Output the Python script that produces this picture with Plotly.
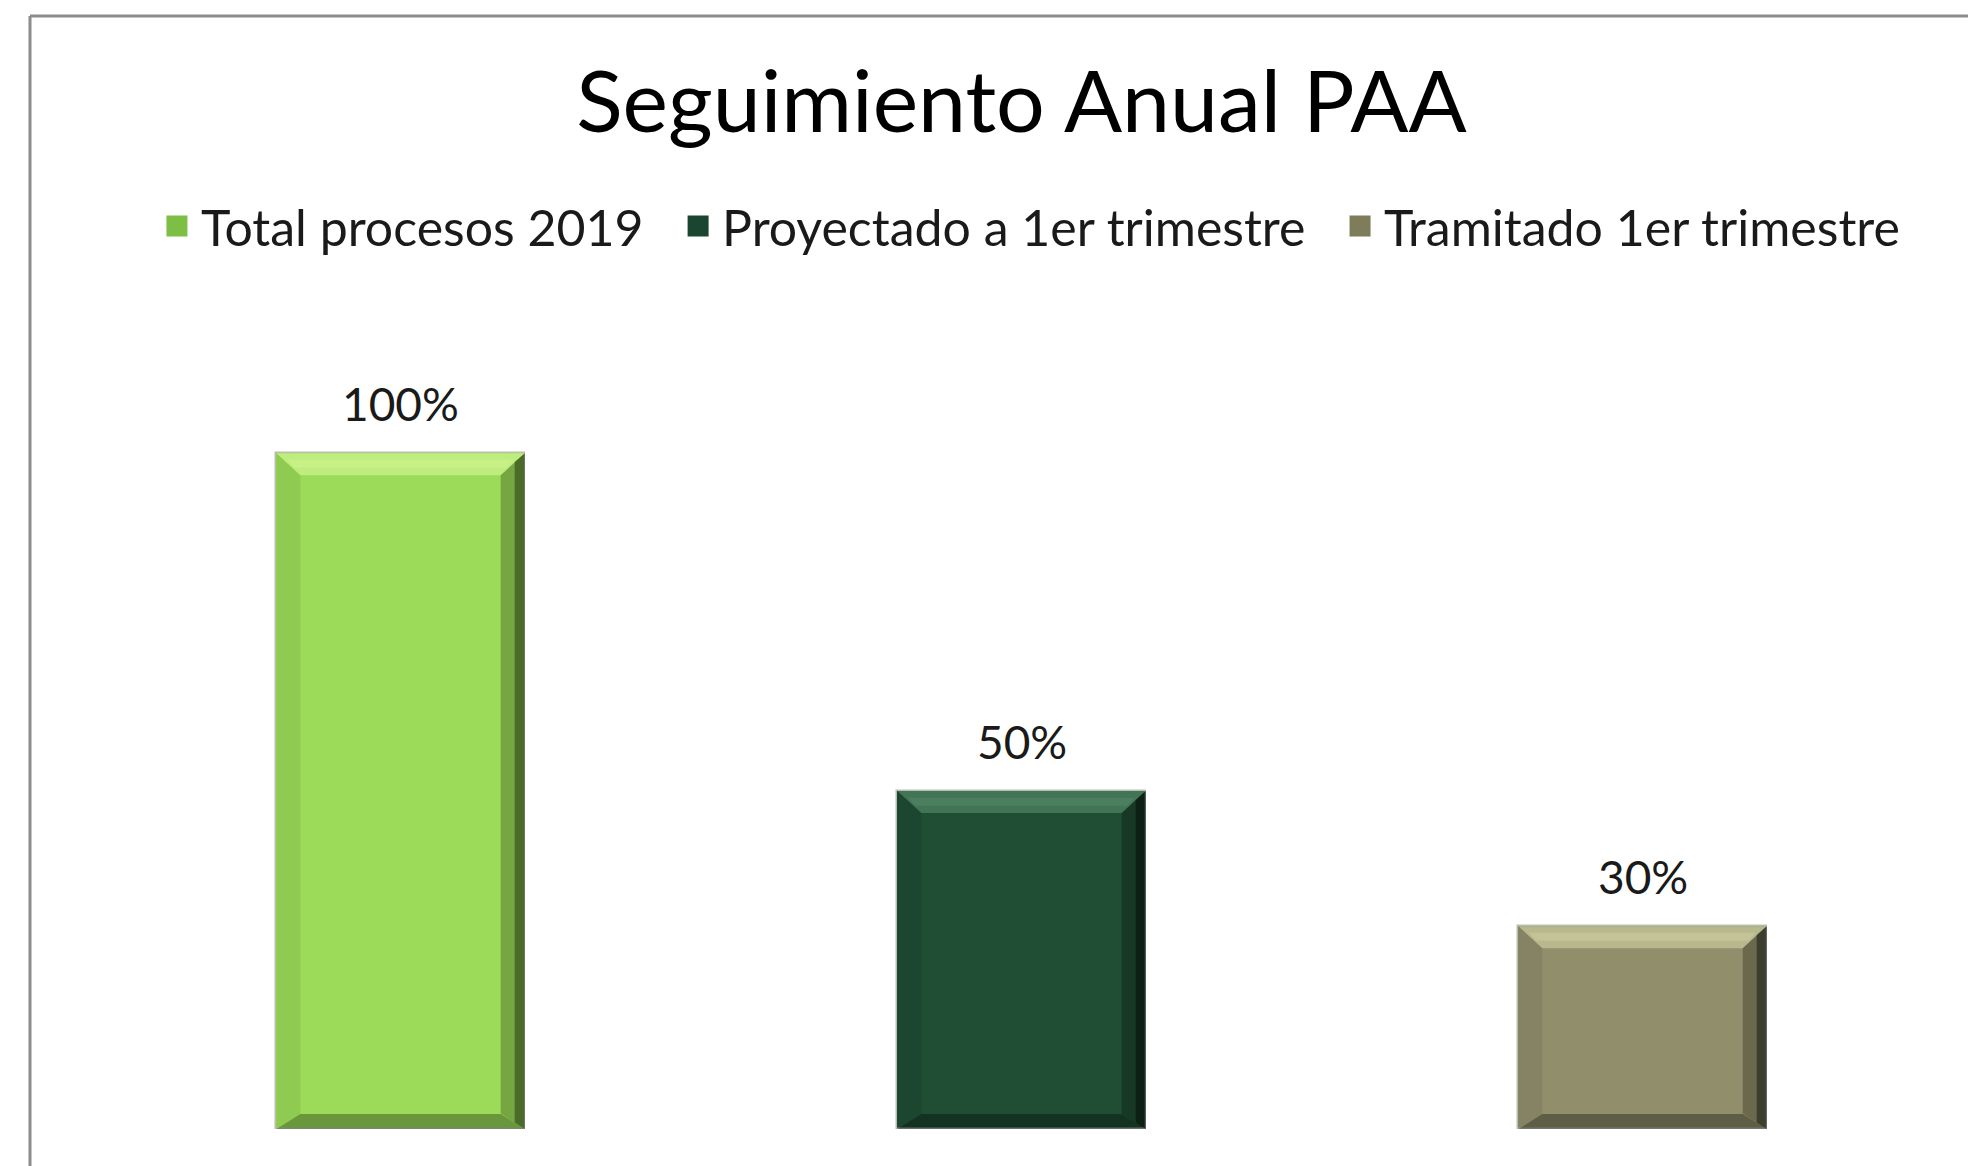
import plotly.graph_objects as go

categories = ["Total procesos 2019", "Proyectado a 1er trimestre", "Tramitado 1er trimestre"]
values = [1.00, 0.50, 0.30]
colors = ["#9CDA5A", "#1F4E35", "#918F6B"]
light = ["#C9F28A", "#4F8262", "#C6C69A"]
dark = ["#2E4418", "#061209", "#22221A"]
mid_dark = ["#7FB845", "#183E2A", "#77755A"]
legend_fill = ["#7DBE45", "#1A4530", "#7E7C5A"]

W, H = 1968, 1166
ML, MR, MT, MB = 90, 15, 318, 37
YMAX = 1.2
bar_w = 0.40

fig = go.Figure()
for i, (c, v) in enumerate(zip(categories, values)):
    fig.add_trace(go.Bar(
        x=[i], y=[v], name=c, width=bar_w,
        marker=dict(color=colors[i], line=dict(color="#B8BDB4", width=1.5)),
        showlegend=False,
    ))
# legend entries (larger square symbols); trailing spaces widen the gap between entries
for i, c in enumerate(categories):
    pad = "\u00a0\u00a0" if i < len(categories) - 1 else ""
    fig.add_trace(go.Scatter(
        x=[None], y=[None], mode="markers", name=c + pad,
        marker=dict(symbol="square", size=16, color=legend_fill[i],
                    line=dict(color=legend_fill[i], width=5)),
        showlegend=True,
    ))

plot_w = W - ML - MR
plot_h = H - MT - MB
px_per_cat = plot_w / 3
px_per_unit = plot_h / YMAX


def path(pts):
    return "M " + " L ".join(f"{a},{b}" for a, b in pts) + " Z"


shapes = []
for i, v in enumerate(values):
    x0, x1 = i - bar_w / 2, i + bar_w / 2
    y0, y1 = 0, v
    bx = 24 / px_per_cat
    by = 22 / px_per_unit
    # top bevel
    shapes.append(dict(type="path", xref="x", yref="y", layer="above",
                       path=path([(x0, y1), (x1, y1), (x1 - bx, y1 - by), (x0 + bx, y1 - by)]),
                       fillcolor=light[i], line=dict(width=0), opacity=0.75))
    # top highlight band (middle of top bevel)
    hb = 8 / px_per_unit
    shapes.append(dict(type="path", xref="x", yref="y", layer="above",
                       path=path([(x0 + bx * 0.45, y1 - by * 0.3), (x1 - bx * 0.45, y1 - by * 0.3),
                                  (x1 - bx * 0.75, y1 - by * 0.3 - hb), (x0 + bx * 0.75, y1 - by * 0.3 - hb)]),
                       fillcolor=light[i], line=dict(width=0), opacity=0.8))
    # right bevel (wide, soft)
    shapes.append(dict(type="path", xref="x", yref="y", layer="above",
                       path=path([(x1, y1), (x1, y0), (x1 - bx, y0 + by * 0.7), (x1 - bx, y1 - by)]),
                       fillcolor=dark[i], line=dict(width=0), opacity=0.35))
    # right bevel (narrow, dark edge)
    bx2 = 10 / px_per_cat
    shapes.append(dict(type="path", xref="x", yref="y", layer="above",
                       path=path([(x1, y1), (x1, y0), (x1 - bx2, y0 + by * 0.3), (x1 - bx2, y1 - by * 0.4)]),
                       fillcolor=dark[i], line=dict(width=0), opacity=0.6))
    # bottom bevel
    by3 = 15 / px_per_unit
    shapes.append(dict(type="path", xref="x", yref="y", layer="above",
                       path=path([(x0, y0), (x1, y0), (x1 - bx, y0 + by3), (x0 + bx, y0 + by3)]),
                       fillcolor=dark[i], line=dict(width=0), opacity=0.45))
    # left bevel
    shapes.append(dict(type="path", xref="x", yref="y", layer="above",
                       path=path([(x0, y0), (x0, y1), (x0 + bx, y1 - by), (x0 + bx, y0 + by3)]),
                       fillcolor=mid_dark[i], line=dict(width=0), opacity=0.45))

# chart border (top and left visible)
bx_paper = (30 - ML) / plot_w
by_paper = (H - MB - 16) / plot_h
shapes.append(dict(type="line", xref="paper", yref="paper", x0=bx_paper, x1=(W - ML + 20) / plot_w,
                   y0=by_paper, y1=by_paper, line=dict(color="#8C8C8C", width=3)))
shapes.append(dict(type="line", xref="paper", yref="paper", x0=bx_paper, x1=bx_paper,
                   y0=by_paper, y1=-MB / plot_h - 0.05, line=dict(color="#8C8C8C", width=3)))

annotations = []
for i, v in enumerate(values):
    annotations.append(dict(x=i, y=v, xref="x", yref="y", text=f"{v:.0%}", showarrow=False,
                            yanchor="bottom", yshift=20,
                            font=dict(family="Lato", size=46, color="#1A1A1A")))

fig.update_layout(
    width=W, height=H,
    margin=dict(l=ML, r=MR, t=MT, b=MB),
    paper_bgcolor="white", plot_bgcolor="white",
    title=dict(text="Seguimiento Anual PAA", x=0.5, xref="paper", xanchor="center",
               y=1 - 102 / H, yref="container", yanchor="middle",
               font=dict(family="Lato", size=86, color="#000000")),
    legend=dict(orientation="h", x=0.504, xanchor="center", y=(H - MB - 226) / plot_h,
                yanchor="middle", font=dict(family="Lato", size=50, color="#1A1A1A"),
                itemwidth=38, traceorder="normal", bgcolor="rgba(0,0,0,0)"),
    xaxis=dict(range=[-0.5, 2.5], showticklabels=False, showgrid=False, zeroline=False,
               showline=False, ticks=""),
    yaxis=dict(range=[0, YMAX], showticklabels=False, showgrid=False, zeroline=False,
               showline=False, ticks=""),
    shapes=shapes,
    annotations=annotations,
    bargap=0,
    barmode="overlay",
)

fig.write_html("out.html", config={"displayModeBar": False})

# remove default browser body margin so the figure sits at the window's origin
with open("out.html", "r", encoding="utf-8") as f:
    html = f.read()
html = html.replace("<head>", "<head><style>html,body{margin:0;padding:0;overflow:hidden;}</style>", 1)
with open("out.html", "w", encoding="utf-8") as f:
    f.write(html)
